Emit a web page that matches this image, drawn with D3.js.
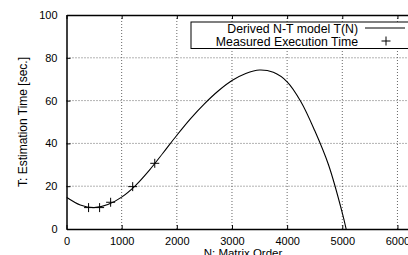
<!DOCTYPE html>
<html>
<head>
<meta charset="utf-8">
<script src="https://cdn.jsdelivr.net/npm/d3@7"></script>
<style>
body{margin:0;background:#fff;}
svg{display:block;}
text{font-family:"Liberation Sans",Arial,sans-serif;fill:#000;}
</style>
</head>
<body>
<div class="chart"></div>
<script>
// model curve T(N)
var modelN=[0,250,500,750,1000,1250,1500,1750,2000,2250,2500,2750,3000,3250,3500,3750,4000,4250,4500,4750,5000,5100];
var modelT=[14.8,11.2,10.0,11.4,14.9,20.3,27.4,35.5,43.8,51.6,58.5,64.5,69.4,72.7,74.3,73.2,68.8,59.5,46,30,7.5,-3.5];
// measured points
var measN=[400,600,800,1200,1600];
var measT=[10,10,12.5,19.8,30.7];
var xTicks=[0,1000,2000,3000,4000,5000,6000];
var yTicks=[0,20,40,60,80,100];

var margin={top:15, left:66.5, bottom:26, right:0};
var width=419.5-margin.left;
var height=229-margin.top;

var svg=d3.select(".chart").append("svg").attr("width",408).attr("height",255);
var g=svg.append("g").attr("transform","translate("+margin.left+","+margin.top+")");

var x=d3.scaleLinear().domain([0,6400]).range([0,width]);
var y=d3.scaleLinear().domain([0,100]).range([height,0]);

// grid
g.append("g").selectAll("line").data(xTicks.slice(1)).enter().append("line")
  .attr("x1",d=>x(d)).attr("x2",d=>x(d)).attr("y1",0).attr("y2",height)
  .attr("stroke","#666").attr("stroke-dasharray","1,2");
g.append("g").selectAll("line").data(yTicks.slice(1,-1)).enter().append("line")
  .attr("x1",0).attr("x2",width).attr("y1",d=>y(d)).attr("y2",d=>y(d))
  .attr("stroke","#666").attr("stroke-dasharray","1,2");

// axes (inward ticks)
var xAxis=g.append("g").attr("transform","translate(0,"+height+")")
  .call(d3.axisBottom(x).tickValues(xTicks).tickFormat(d3.format("d")).tickSizeInner(-4).tickSizeOuter(0).tickPadding(8));
var xTop=g.append("g")
  .call(d3.axisTop(x).tickValues(xTicks).tickSizeInner(-4).tickSizeOuter(0).tickFormat(""));
var yAxis=g.append("g")
  .call(d3.axisLeft(y).tickValues(yTicks).tickSizeInner(-4).tickSizeOuter(0).tickPadding(9));
[xAxis,xTop,yAxis].forEach(function(a){
  a.select(".domain").attr("stroke","#000").attr("stroke-width",1.5);
  a.selectAll(".tick line").attr("stroke","#000");
  a.selectAll("text").style("font-size","11px").attr("font-family","Liberation Sans, Arial, sans-serif");
});

// labels
svg.append("text").attr("x",243).attr("y",257).attr("text-anchor","middle")
  .style("font-size","11.5px").text("N: Matrix Order");
svg.append("text").attr("transform","translate(27,"+(margin.top+height/2)+") rotate(-90)")
  .attr("text-anchor","middle").style("font-size","12px").text("T: Estimation Time [sec.]");

// clip
svg.append("clipPath").attr("id","clip").append("rect").attr("width",width).attr("height",height);

var model=modelN.map((n,i)=>({n:n,t:modelT[i]}));
var line=d3.line().x(d=>x(d.n)).y(d=>y(d.t)).curve(d3.curveCatmullRom);
g.append("path").datum(model).attr("clip-path","url(#clip)")
  .attr("d",line).attr("fill","none").attr("stroke","#000").attr("stroke-width",1.1);

var meas=measN.map((n,i)=>({n:n,t:measT[i]}));
g.selectAll(".pt").data(meas).enter().append("path")
  .attr("d","M-4.5,0H4.5M0,-4.5V4.5")
  .attr("transform",d=>"translate("+x(d.n)+","+y(d.t)+")")
  .attr("stroke","#000").attr("fill","none");

// legend
var lg=svg.append("g");
lg.append("rect").attr("x",191).attr("y",22).attr("width",223).attr("height",26.5)
  .attr("fill","#fff").attr("stroke","#000");
lg.append("text").attr("x",358).attr("y",32.5).attr("text-anchor","end").style("font-size","12.3px").text("Derived N-T model T(N)");
lg.append("text").attr("x",358).attr("y",45.5).attr("text-anchor","end").style("font-size","12.3px").text("Measured Execution Time");
lg.append("line").attr("x1",365).attr("x2",405).attr("y1",28).attr("y2",28).attr("stroke","#000");
lg.append("path").attr("d","M-4.5,0H4.5M0,-4.5V4.5").attr("transform","translate(386,41)")
  .attr("stroke","#000").attr("fill","none");
</script>
</body>
</html>
